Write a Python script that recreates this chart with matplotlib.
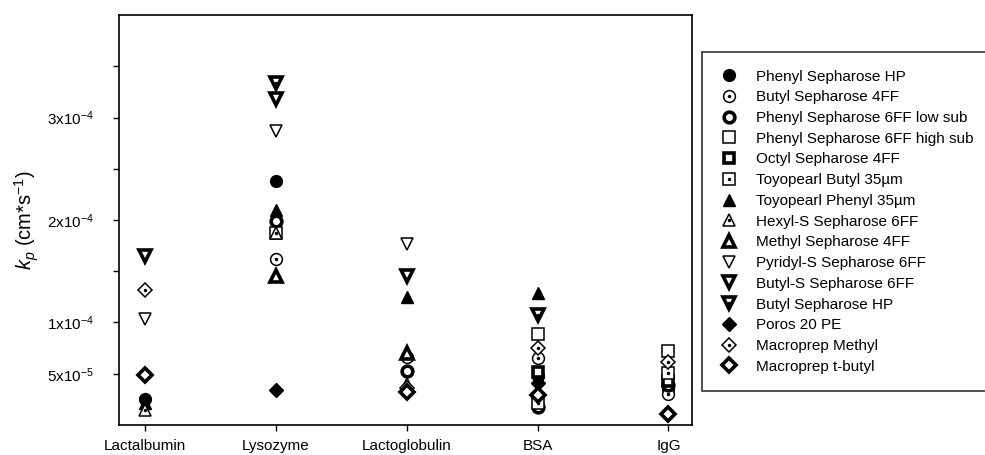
import numpy as np
import matplotlib
matplotlib.use('Agg')
import matplotlib.pyplot as plt
from matplotlib.ticker import FixedLocator, NullFormatter

plt.rcParams['font.family'] = ['Liberation Sans', 'DejaVu Sans']
plt.rcParams['mathtext.fontset'] = 'custom'
plt.rcParams['mathtext.rm'] = 'Liberation Sans'
plt.rcParams['mathtext.it'] = 'Liberation Sans:italic'

nan = np.nan

categories = ['Lactalbumin', 'Lysozyme', 'Lactoglobulin', 'BSA', 'IgG']

# k_p values (cm/s) per protein, in category order
phenyl_hp = [2.5e-5, 2.38e-4, nan, 4.8e-5, 3.5e-5]
butyl_4ff = [nan, 1.62e-4, 6.6e-5, 6.5e-5, 3.0e-5]
phenyl_6ff_low = [nan, 1.99e-4, 5.3e-5, 1.8e-5, 3.9e-5]
phenyl_6ff_high = [nan, nan, nan, 8.9e-5, 7.2e-5]
octyl_4ff = [nan, nan, nan, 5.2e-5, 4.3e-5]
toyopearl_butyl = [nan, 1.87e-4, nan, 2.1e-5, 5.1e-5]
toyopearl_phenyl = [2.1e-5, 2.1e-4, 1.25e-4, 1.29e-4, nan]
hexyl_s = [1.5e-5, 1.87e-4, 4.0e-5, nan, nan]
methyl_4ff = [nan, 1.45e-4, 7.0e-5, nan, nan]
pyridyl_s = [1.03e-4, 2.87e-4, 1.77e-4, nan, nan]
butyl_s = [1.65e-4, 3.18e-4, 1.45e-4, nan, nan]
butyl_hp = [nan, 3.34e-4, nan, 1.07e-4, nan]
poros_pe = [nan, 3.4e-5, nan, 4.1e-5, nan]
macroprep_methyl = [1.32e-4, nan, 3.6e-5, 7.5e-5, 6.1e-5]
macroprep_tbutyl = [4.9e-5, nan, 3.2e-5, 2.9e-5, 1.1e-5]

series = [
    ('Phenyl Sepharose HP', phenyl_hp, 'o', 'filled'),
    ('Butyl Sepharose 4FF', butyl_4ff, 'o', 'dot'),
    ('Phenyl Sepharose 6FF low sub', phenyl_6ff_low, 'o', 'thick'),
    ('Phenyl Sepharose 6FF high sub', phenyl_6ff_high, 's', 'open'),
    ('Octyl Sepharose 4FF', octyl_4ff, 's', 'thick'),
    ('Toyopearl Butyl 35µm', toyopearl_butyl, 's', 'dot'),
    ('Toyopearl Phenyl 35µm', toyopearl_phenyl, '^', 'filled'),
    ('Hexyl-S Sepharose 6FF', hexyl_s, '^', 'dot'),
    ('Methyl Sepharose 4FF', methyl_4ff, '^', 'thick'),
    ('Pyridyl-S Sepharose 6FF', pyridyl_s, 'v', 'open'),
    ('Butyl-S Sepharose 6FF', butyl_s, 'v', 'thick'),
    ('Butyl Sepharose HP', butyl_hp, 'v', 'thickdot'),
    ('Poros 20 PE', poros_pe, 'D', 'filled'),
    ('Macroprep Methyl', macroprep_methyl, 'D', 'dot'),
    ('Macroprep t-butyl', macroprep_tbutyl, 'D', 'thick'),
]

sizes = {'o': 8.5, 's': 8, '^': 9, 'v': 9, 'D': 7.5}

fig = plt.figure(figsize=(9.85, 4.55), dpi=100)
ax = fig.add_axes([0.1208, 0.066, 0.5817, 0.901])

x = np.arange(len(categories))
handles = []
for name, vals, m, style in series:
    ms = sizes[m]
    if style == 'filled':
        h = ax.plot(x, vals, ls='none', marker=m, ms=ms, mfc='black', mec='black', mew=1)[0]
    elif style == 'open':
        h = ax.plot(x, vals, ls='none', marker=m, ms=ms, mfc='white', mec='black', mew=1.1)[0]
    elif style == 'thick':
        h = ax.plot(x, vals, ls='none', marker=m, ms=ms - 0.8, mfc='white', mec='black', mew=2.6)[0]
    else:
        mew = 2.6 if style == 'thickdot' else 1.1
        shrink = 0.8 if style == 'thickdot' else 0
        h1 = ax.plot(x, vals, ls='none', marker=m, ms=ms - shrink, mfc='white', mec='black', mew=mew)[0]
        h2 = ax.plot(x, vals, ls='none', marker='o', ms=2.5, mfc='black', mec='black', mew=0)[0]
        h = (h1, h2)
    handles.append(h)

ax.set_xlim(-0.2, 4.18)
ax.set_ylim(0, 4.0e-4)
ax.set_xticks(x)
ax.set_xticklabels(categories, fontsize=11)

ax.yaxis.set_major_locator(FixedLocator([5e-5, 1e-4, 2e-4, 3e-4]))
ax.set_yticklabels([r'5x10$^{-5}$', r'1x10$^{-4}$', r'2x10$^{-4}$', r'3x10$^{-4}$'], fontsize=11)
ax.yaxis.set_minor_locator(FixedLocator([1.5e-4, 2.5e-4, 3.5e-4]))
ax.yaxis.set_minor_formatter(NullFormatter())
ax.tick_params(axis='both', which='both', direction='out', length=4, width=1, color='black')
ax.tick_params(axis='x', pad=6)
ax.tick_params(axis='y', pad=14)

for sp in ax.spines.values():
    sp.set_linewidth(1.2)

ax.set_ylabel(r'$k_p$ (cm*s$^{-1}$)', fontsize=14.5, labelpad=4)

leg = fig.legend(handles, [s[0] for s in series], loc='upper left',
                 bbox_to_anchor=(702 / 985, 1 - 52 / 455), frameon=True,
                 fancybox=False, edgecolor='black', fontsize=11,
                 labelspacing=0.44, handlelength=1.2, handletextpad=1.2,
                 borderpad=1.15, borderaxespad=0)
leg.get_frame().set_linewidth(1.2)

fig.savefig('out.png', dpi=100)
